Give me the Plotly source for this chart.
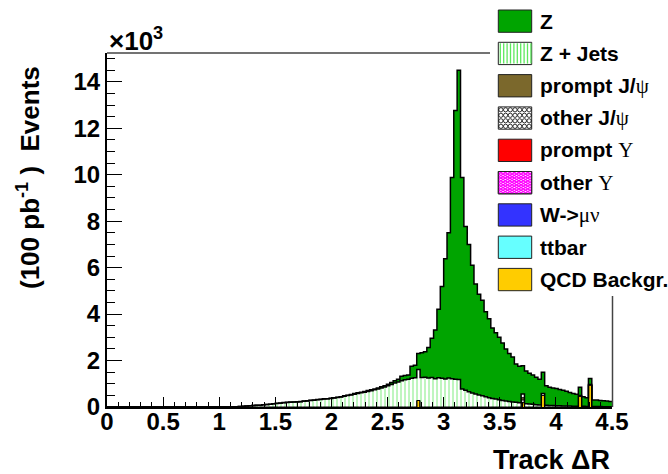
import numpy as np
import plotly.graph_objects as go

# ---------------- data (thousands of events per bin, 150 bins on 0..4.5) ----------------
N_BINS = 150
X_MIN, X_MAX = 0.0, 4.5

z_jets = [0.0] * 36 + [
    0.005, 0.01, 0.015, 0.02, 0.03, 0.04, 0.05, 0.06, 0.07, 0.08, 0.10, 0.11, 0.12, 0.14,
    0.15, 0.16, 0.18, 0.19, 0.20, 0.21, 0.22, 0.23, 0.25, 0.26,
    0.28, 0.29, 0.31, 0.32, 0.34, 0.35, 0.37, 0.39, 0.41, 0.43,
    0.46, 0.49, 0.52, 0.55, 0.58, 0.61, 0.64, 0.67, 0.70, 0.74,
    0.78, 0.82, 0.86, 0.91, 0.97, 1.03, 1.08, 1.13, 1.17, 1.20,
    1.24, 1.26, 1.33, 1.27, 1.28, 1.25, 1.27, 1.22, 1.26, 1.24,
    1.21, 1.25, 1.22, 1.20, 1.18, 0.78, 0.72, 0.66, 0.60, 0.56,
    0.52, 0.48, 0.44, 0.40, 0.37, 0.34, 0.31, 0.28, 0.26, 0.24,
    0.22, 0.20, 0.18, 0.16, 0.14, 0.13, 0.12, 0.10, 0.09, 0.08,
    0.07, 0.06, 0.06, 0.05, 0.05, 0.04, 0.04, 0.04, 0.03, 0.03,
    0.03, 0.03, 0.02, 0.02, 0.02, 0.02, 0.02, 0.01, 0.01, 0.01,
]

z_boson = [0.0] * 50 + [
    0.01, 0.01, 0.01, 0.01, 0.01, 0.01, 0.01, 0.01, 0.01, 0.01,
    0.01, 0.01, 0.01, 0.01, 0.01, 0.01, 0.01, 0.01, 0.01, 0.01,
    0.02, 0.02, 0.02, 0.03, 0.03, 0.03, 0.03, 0.04, 0.04, 0.04,
    0.04, 0.05, 0.06, 0.07, 0.09, 0.10, 0.12, 0.19, 0.19, 0.18,
    0.51, 0.54, 0.69, 1.07, 1.10, 1.31, 1.69, 2.10, 2.95, 3.95,
    5.17, 6.25, 8.66, 11.56, 13.32, 9.10, 7.05, 6.34, 5.50, 4.74,
    4.33, 4.12, 3.66, 3.40, 3.03, 2.86, 2.69, 2.47, 2.24, 2.06,
    1.93, 1.65, 1.57, 1.22, 1.41, 1.32, 1.26, 1.18, 1.11, 0.92,
    0.85, 0.79, 0.76, 0.75, 0.70, 0.68, 0.64, 0.58, 0.55, 0.52,
    0.35, 0.41, 0.38, 0.26, 0.28, 0.28, 0.26, 0.26, 0.25, 0.23,
]

qcd_bins = [92, 123, 129, 140, 143]
qcd_vals = [0.28, 0.20, 0.50, 0.47, 0.95]
other_jpsi_bins = [123]
other_jpsi_vals = [0.10]
prompt_jpsi_bins = [123]
prompt_jpsi_vals = [0.10]

y_tick_vals = [0, 2, 4, 6, 8, 10, 12, 14]
x_tick_vals = [0, 0.5, 1, 1.5, 2, 2.5, 3, 3.5, 4, 4.5]
x_tick_text = ["0", "0.5", "1", "1.5", "2", "2.5", "3", "3.5", "4", "4.5"]

legend_labels = [
    "Z", "Z + Jets", "prompt J/<SERIF>ψ</SERIF>", "other J/<SERIF>ψ</SERIF>",
    "prompt <SERIF>Υ</SERIF>", "other <SERIF>Υ</SERIF>", "W-><SERIF>μν</SERIF>",
    "ttbar", "QCD Backgr.",
]

# ---------------- build ----------------
edges = np.linspace(X_MIN, X_MAX, N_BINS + 1)


def sparse(bins, vals):
    a = np.zeros(N_BINS)
    a[bins] = vals
    return a


qcd = sparse(qcd_bins, qcd_vals)
other_jpsi = sparse(other_jpsi_bins, other_jpsi_vals)
prompt_jpsi = sparse(prompt_jpsi_bins, prompt_jpsi_vals)

Z_GREEN = "#00a400"
ZJ_GREEN = "#5ee85e"
BROWN = "#7b682c"
ORANGE = "#ffcc00"


def step_y(vals):
    v = list(np.asarray(vals, dtype=float))
    return v + [v[-1]]


fig = go.Figure()
stack_specs = [
    ("QCD", qcd, dict(fillcolor=ORANGE), 1.0),
    ("other J/psi", other_jpsi, dict(fillcolor="white",
                                     fillpattern=dict(shape=".", fgcolor="black", bgcolor="white", size=4, solidity=0.3)), 1.0),
    ("prompt J/psi", prompt_jpsi, dict(fillcolor=BROWN), 1.0),
    ("Z + Jets", z_jets, dict(fillcolor="white",
                              fillpattern=dict(shape="|", fgcolor=ZJ_GREEN, bgcolor="white", size=4, solidity=0.4)), 1.5),
    ("Z", z_boson, dict(fillcolor=Z_GREEN), 1.5),
]
for name, vals, fillkw, lw in stack_specs:
    fig.add_trace(go.Scatter(
        x=edges, y=step_y(vals), name=name, mode="lines",
        line=dict(shape="hv", color="black", width=lw),
        stackgroup="one", showlegend=False, hoverinfo="skip", **fillkw))

# ---------------- layout ----------------
L, R, T, B = 107, 612, 53, 407
W, H = 668, 474
PW, PH = R - L, B - T


def px(x):
    return (x - L) / PW


def py(y):
    return (B - y) / PH


FONT = "Liberation Sans, Arial, Helvetica, sans-serif"
SERIF = "<span style=\"font-family:'Liberation Serif', 'Times New Roman', serif; font-weight:normal\">"

fig.update_layout(
    width=W, height=H,
    margin=dict(l=L, r=W - R, t=T, b=H - B, pad=0),
    paper_bgcolor="white", plot_bgcolor="white",
    showlegend=False,
    font=dict(family=FONT, color="black"),
)
fig.update_xaxes(
    range=[X_MIN, X_MAX], showgrid=False, zeroline=False,
    showline=True, linecolor="black", linewidth=2,
    tickmode="array", tickvals=x_tick_vals, ticktext=x_tick_text,
    ticks="inside", ticklen=10, tickwidth=1, tickcolor="black",
    minor=dict(dtick=0.1, ticks="inside", ticklen=5, tickwidth=1, tickcolor="black"),
    tickfont=dict(family=FONT, size=24, weight="bold", color="black"),
    ticklabelstandoff=-8,
)
fig.update_yaxes(
    range=[0, 15.24], showgrid=False, zeroline=False,
    showline=True, linecolor="black", linewidth=2,
    tickmode="array", tickvals=y_tick_vals,
    ticks="inside", ticklen=15, tickwidth=1, tickcolor="black",
    minor=dict(dtick=0.5, ticks="inside", ticklen=8, tickwidth=1, tickcolor="black"),
    tickfont=dict(family=FONT, size=24, weight="bold", color="black"),
)

shapes = []
# frame top / right lines (thin)
shapes.append(dict(type="line", xref="paper", yref="paper", x0=0, x1=px(491), y0=1, y1=1,
                   line=dict(color="#444444", width=1.5), layer="above"))
shapes.append(dict(type="line", xref="paper", yref="paper", x0=px(612.5), x1=px(612.5), y0=0, y1=py(293),
                   line=dict(color="#444444", width=1.5), layer="above"))

# legend swatches
SW_X0, SW_X1 = 498.3, 531.7
ROW0, PITCH, SW_H = 10.0, 32.3, 22.3


def rect(x0, y0, x1, y1, fill, line="#222222", lw=1):
    return dict(type="rect", xref="paper", yref="paper", x0=px(x0), x1=px(x1), y0=py(y1), y1=py(y0),
                fillcolor=fill, line=dict(color=line, width=lw), layer="above")


def seg(x0, y0, x1, y1, color, lw):
    return dict(type="line", xref="paper", yref="paper", x0=px(x0), x1=px(x1), y0=py(y0), y1=py(y1),
                line=dict(color=color, width=lw), layer="above")


def clip(x0, y0, x1, y1, bx0, by0, bx1, by1):
    dx, dy = x1 - x0, y1 - y0
    t0, t1 = 0.0, 1.0
    for p, q in ((-dx, x0 - bx0), (dx, bx1 - x0), (-dy, y0 - by0), (dy, by1 - y0)):
        if p == 0:
            if q < 0:
                return None
        else:
            t = q / p
            if p < 0:
                t0 = max(t0, t)
            else:
                t1 = min(t1, t)
    if t0 > t1:
        return None
    return x0 + t0 * dx, y0 + t0 * dy, x0 + t1 * dx, y0 + t1 * dy


fills = [Z_GREEN, "white", BROWN, "white", "#ff0000", "white", "#3333ff", "#66ffff", ORANGE]
annotations = []
for k, (lab, fc) in enumerate(zip(legend_labels, fills)):
    y0 = ROW0 + PITCH * k
    y1 = y0 + SW_H
    if k == 0:
        shapes.append(dict(type="rect", xref="paper", yref="paper", x0=px(490), x1=px(W + 5),
                           y0=py(296), y1=py(-5), fillcolor="white", line=dict(width=0), layer="above"))
    shapes.append(rect(SW_X0, y0, SW_X1, y1, fc))
    if k == 1:
        xx = SW_X0 + 2.0
        while xx < SW_X1 - 0.5:
            shapes.append(seg(xx, y0 + 1, xx, y1 - 1, ZJ_GREEN, 1.3))
            xx += 3.4
    if k == 3:
        for r in range(4):
            for c in range(7):
                cx = SW_X0 + 2.6 + c * 4.7
                cy = y0 + 2.9 + r * 5.5
                shapes.append(dict(type="circle", xref="paper", yref="paper",
                                   x0=px(cx - 2.1), x1=px(cx + 2.1), y0=py(cy + 2.1), y1=py(cy - 2.1),
                                   line=dict(color="black", width=0.8), layer="above"))
    if k == 5:
        for sgn in (1, -1):
            off = -40.0
            while off < 40:
                xa, ya = SW_X0 + off, y0
                xb, yb = xa + sgn * 40, y0 + 40 * 0.6
                if sgn < 0:
                    xa, xb = SW_X0 + off + 40, SW_X0 + off
                cl = clip(xa, ya, xb, yb, SW_X0, y0, SW_X1, y1)
                if cl:
                    shapes.append(seg(*cl, "#ff00ff", 1.2))
                off += 4.5
        shapes.append(rect(SW_X0, y0, SW_X1, y1, "rgba(0,0,0,0)"))
    text = lab.replace("<SERIF>", SERIF).replace("</SERIF>", "</span>")
    annotations.append(dict(xref="paper", yref="paper", x=px(538), y=py(y0 + SW_H / 2),
                            xanchor="left", yanchor="middle", showarrow=False, text=text,
                            font=dict(family=FONT, size=21, weight="bold", color="black")))

annotations.append(dict(xref="paper", yref="paper", x=0, y=py(39), xanchor="left", yanchor="middle",
                        showarrow=False, text="×10<sup>3</sup>",
                        font=dict(family=FONT, size=26, weight="bold", color="black")))
annotations.append(dict(xref="paper", yref="paper", x=px(28), y=py(178), xanchor="center", yanchor="middle",
                        showarrow=False, textangle=-90, text="(100 pb<sup>-1</sup> )  Events",
                        font=dict(family=FONT, size=26, weight="bold", color="black")))
annotations.append(dict(xref="paper", yref="paper", x=1.0, y=py(460), xanchor="right", yanchor="middle",
                        showarrow=False, text="Track ΔR",
                        font=dict(family=FONT, size=27, weight="bold", color="black")))

fig.update_layout(shapes=shapes, annotations=annotations)
fig.write_html("out.html")
